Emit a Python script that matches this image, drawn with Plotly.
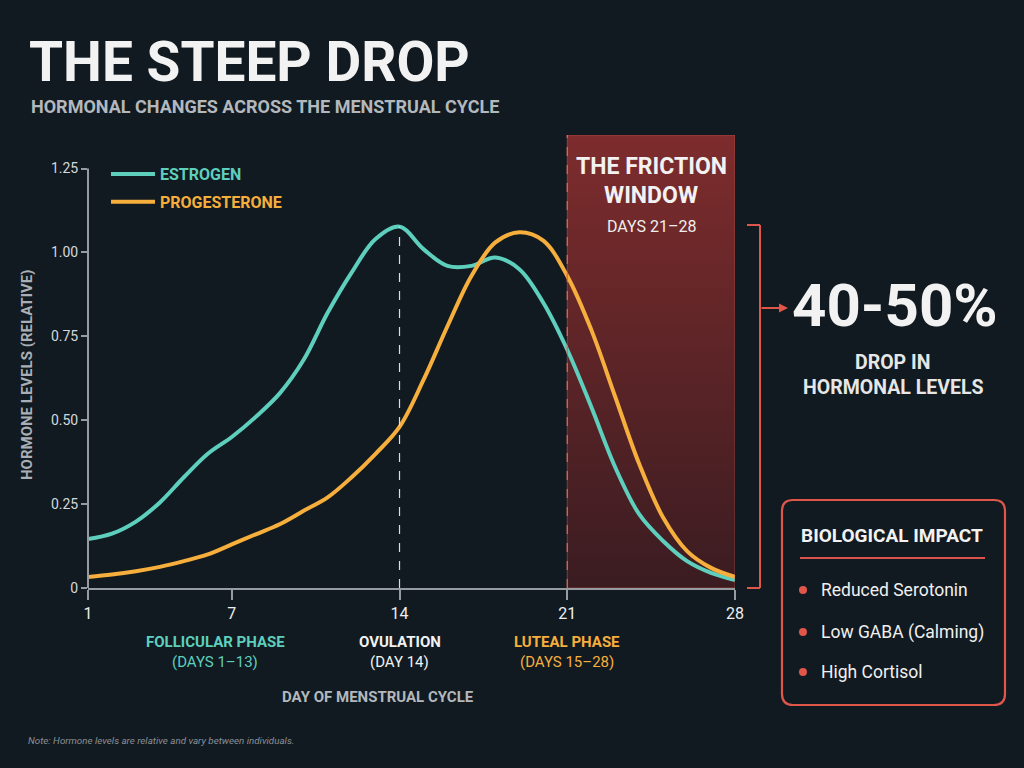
import plotly.graph_objects as go

# hormone curves, relative levels read per cycle day
days = list(range(1, 29))
estrogen = [0.146, 0.162, 0.198, 0.255, 0.33, 0.40, 0.45, 0.51, 0.58, 0.68,
            0.82, 0.94, 1.04, 1.077, 1.01, 0.96, 0.96, 0.985, 0.95, 0.85,
            0.71, 0.54, 0.36, 0.22, 0.14, 0.08, 0.045, 0.024]
progesterone = [0.033, 0.04, 0.05, 0.063, 0.08, 0.10, 0.13, 0.16, 0.19, 0.23,
                0.27, 0.33, 0.40, 0.48, 0.62, 0.78, 0.93, 1.03, 1.06, 1.035,
                0.93, 0.77, 0.57, 0.37, 0.21, 0.11, 0.06, 0.033]

y_ticks = [0, 0.25, 0.5, 0.75, 1.0, 1.25]
y_tick_text = ["0", "0.25", "0.50", "0.75", "1.00", "1.25"]
x_ticks = [1, 7, 14, 21, 28]

ovulation_day = 14
window_start, window_end, window_top = 21, 28, 1.35

phase_names = ["FOLLICULAR PHASE", "OVULATION", "LUTEAL PHASE"]
phase_days = ["(DAYS 1\u201313)", "(DAY 14)", "(DAYS 15\u201328)"]
phase_x = [6.3, 14, 21]

impacts = ["Reduced Serotonin", "Low GABA (Calming)", "High Cortisol"]

colors = {
    'bg': '#111a21',
    'teal': '#5ecfbd',
    'orange': '#f6ae3c',
    'red': '#e0574a',
    'axis': '#979ca1',
    'grey': '#b3b8bd',
    'white': '#f2f2f2',
}
FONT = "Roboto, Inter, Noto Sans, sans-serif"

W, H = 1024, 768
L, R, T, B = 88, 289, 135, 180
PW, PH = W - L - R, H - T - B


def px(x):
    return (x - L) / PW


def py(y):
    return (H - B - y) / PH


fig = go.Figure()

# friction window with vertical gradient
fig.add_trace(go.Scatter(
    x=[window_start, window_end, window_end, window_start, window_start],
    y=[0, 0, window_top, window_top, 0],
    mode='lines', line=dict(width=0), fill='toself',
    fillgradient=dict(type='vertical', colorscale=[[0, '#3a1c21'], [1, '#7e2c2d']]),
    hoverinfo='skip', showlegend=False))

fig.add_trace(go.Scatter(x=days, y=estrogen, mode='lines', line_shape='spline',
                         line=dict(color=colors['teal'], width=4),
                         name='<b><span style="color:%s">ESTROGEN</span></b>' % colors['teal'],
                         legendgroup='e'))
fig.add_trace(go.Scatter(x=days, y=progesterone, mode='lines', line_shape='spline',
                         line=dict(color=colors['orange'], width=4),
                         name='<b><span style="color:%s">PROGESTERONE</span></b>' % colors['orange'],
                         legendgroup='p'))

shapes = []
# y axis line only up to 1.25
shapes.append(dict(type='line', xref='paper', yref='y', x0=0, x1=0, y0=0, y1=1.25,
                   line=dict(color=colors['axis'], width=2)))
# ovulation marker
shapes.append(dict(type='line', x0=ovulation_day, x1=ovulation_day, y0=0,
                   y1=estrogen[days.index(ovulation_day)],
                   line=dict(color='#d9dde0', width=1.2, dash='dash')))
# window border + dashed start
shapes.append(dict(type='rect', x0=window_start, x1=window_end, y0=0, y1=window_top,
                   line=dict(color='rgba(224,100,90,0.45)', width=1)))
shapes.append(dict(type='line', x0=window_start, x1=window_start, y0=0, y1=window_top,
                   line=dict(color='#e2685a', width=1.2, dash='dash')))

# bracket to the right of the window
for x0, y0, x1, y1 in [(747, 225, 760, 225), (760, 225, 760, 588), (747, 588, 760, 588)]:
    shapes.append(dict(type='line', xref='paper', yref='paper',
                       x0=px(x0), y0=py(y0), x1=px(x1), y1=py(y1),
                       line=dict(color=colors['red'], width=2)))

# biological impact box (rounded)
bx0, bx1, by0, by1, r = 782, 1005, 500, 705, 11
path = ("M {a},{b} L {c},{b} Q {d},{b} {d},{e} L {d},{f} Q {d},{g} {c},{g} "
        "L {a},{g} Q {h},{g} {h},{f} L {h},{e} Q {h},{b} {a},{b} Z").format(
    a=px(bx0 + r), b=py(by0), c=px(bx1 - r), d=px(bx1), e=py(by0 + r),
    f=py(by1 - r), g=py(by1), h=px(bx0))
shapes.append(dict(type='path', xref='paper', yref='paper', path=path,
                   line=dict(color=colors['red'], width=2.2), fillcolor=colors['bg']))
shapes.append(dict(type='line', xref='paper', yref='paper', x0=px(800), x1=px(985),
                   y0=py(558), y1=py(558), line=dict(color='#d9534a', width=2)))
bullet_y = [590, 632, 672]
for yy in bullet_y:
    shapes.append(dict(type='circle', xref='paper', yref='paper',
                       x0=px(799), x1=px(807), y0=py(yy + 4), y1=py(yy - 4),
                       fillcolor=colors['red'], line=dict(width=0)))

annotations = []


def note(text, x, y, size, color, xanchor='center', xref='paper', **kw):
    annotations.append(dict(text=text, x=x, y=y, xref=xref, yref='paper',
                            xanchor=xanchor, yanchor='middle', showarrow=False,
                            font=dict(family=FONT, size=size, color=color), **kw))


note('<b>THE STEEP DROP</b>', px(27), py(62), 55, colors['white'], xanchor='left')
note('<b>HORMONAL CHANGES ACROSS THE MENSTRUAL CYCLE</b>', px(29), py(107), 18,
     colors['grey'], xanchor='left')
note('<b>HORMONE LEVELS (RELATIVE)</b>', px(27), py(375), 15, '#a9afb4', textangle=-90)

phase_colors = [colors['teal'], colors['white'], colors['orange']]
for name, sub, xx, c in zip(phase_names, phase_days, phase_x, phase_colors):
    note('<b>%s</b>' % name, xx, py(642), 15, c, xref='x')
    note(sub, xx, py(662), 15, c, xref='x')

note('<b>DAY OF MENSTRUAL CYCLE</b>', px(378), py(697), 15, colors['grey'])
note('<i>Note: Hormone levels are relative and vary between individuals.</i>',
     px(26), py(740), 9.8, '#8a9096', xanchor='left')

mid = (window_start + window_end) / 2
note('<b>THE FRICTION</b>', mid, py(166), 23, colors['white'], xref='x')
note('<b>WINDOW</b>', mid, py(195), 23, colors['white'], xref='x')
note('DAYS 21\u201328', mid, py(226), 16, '#eeeeee', xref='x')

note('<b>40-50%</b>', px(895), py(305), 60, colors['white'])
note('<b>DROP IN</b>', px(893), py(362), 19.5, '#e6e6e6')
note('<b>HORMONAL LEVELS</b>', px(893), py(387), 19.5, '#e6e6e6')

note('<b>BIOLOGICAL IMPACT</b>', px(892), py(535), 19, colors['white'])
for text, yy in zip(impacts, bullet_y):
    note(text, px(819), py(yy), 17.5, '#f0f0f0', xanchor='left')

# arrow from bracket to the stat
annotations.append(dict(x=px(788), y=py(308), xref='paper', yref='paper', text='',
                        showarrow=True, ax=-28, ay=0, arrowhead=2, arrowsize=1,
                        arrowwidth=1.8, arrowcolor=colors['red']))

fig.update_layout(
    width=W, height=H, autosize=False,
    margin=dict(l=L, r=R, t=T, b=B),
    paper_bgcolor=colors['bg'], plot_bgcolor=colors['bg'],
    shapes=shapes, annotations=annotations,
    legend=dict(x=px(106), y=py(157), xanchor='left', yanchor='top',
                bgcolor='rgba(0,0,0,0)', font=dict(family=FONT, size=16),
                tracegroupgap=4, itemwidth=44),
    xaxis=dict(range=[1, 28], tickvals=x_ticks, showgrid=False, zeroline=False,
               showline=True, linecolor=colors['axis'], linewidth=2,
               ticks='outside', ticklen=10, tickwidth=2, tickcolor=colors['axis'],
               tickfont=dict(family=FONT, size=16, color='#eceeef')),
    yaxis=dict(range=[0, window_top], tickvals=y_ticks, ticktext=y_tick_text,
               showgrid=False, zeroline=False, showline=False,
               ticks='outside', ticklen=6, tickwidth=2, tickcolor=colors['axis'],
               tickfont=dict(family=FONT, size=14, color='#d5d8db')),
    hovermode=False,
)

# drop the default page margin so the figure fills the window
fig.write_html("out.html", config={'displayModeBar': False},
               post_script="document.body.style.margin='0';")
